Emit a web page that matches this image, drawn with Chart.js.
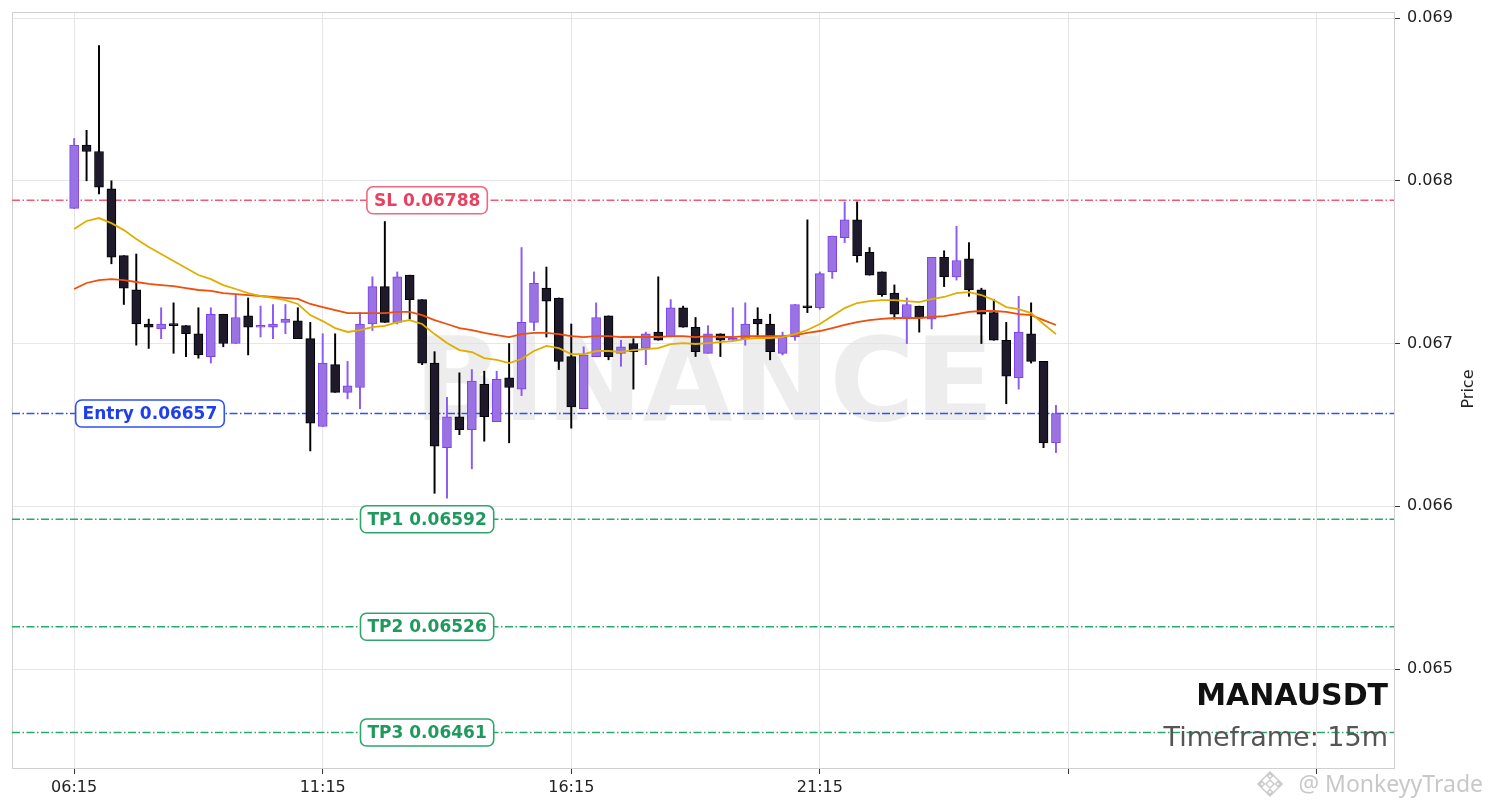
<!DOCTYPE html>
<html>
<head>
<meta charset="utf-8">
<script src="https://cdn.jsdelivr.net/npm/chart.js@4.4.1/dist/chart.umd.min.js"></script>
<style>
  html, body { margin: 0; padding: 0; background: #fff; }
  #wrap { width: 1490px; height: 808px; }
</style>
</head>
<body>
<div id="wrap"><canvas id="priceChart" width="1490" height="808"></canvas></div>
<script>
const opens = [0.06783,0.06822,0.06818,0.06795,0.06754,0.06733,0.06712,0.06709,0.06712,0.06711,
  0.06706,0.06692,0.06718,0.06700,0.06717,0.06710,0.06710,0.06713,0.06714,0.06703,
  0.06649,0.06687,0.06670,0.06673,0.06712,0.06735,0.06713,0.06742,0.06727,0.06688,
  0.06636,0.06655,0.06647,0.06675,0.06652,0.06679,0.06672,0.06713,0.06734,0.06728,
  0.06692,0.06660,0.06692,0.06717,0.06694,0.06700,0.06697,0.06707,0.06704,0.06722,
  0.06710,0.06694,0.06706,0.06702,0.06703,0.06715,0.06712,0.06694,0.06704,0.06723,
  0.06722,0.06744,0.06765,0.06776,0.06756,0.06744,0.06731,0.06716,0.06723,0.06715,
  0.06753,0.06741,0.06752,0.06733,0.06719,0.06702,0.06679,0.06706,0.06689,0.06639];
const highs = [0.06826,0.06831,0.06883,0.06800,0.06754,0.06755,0.06715,0.06722,0.06725,0.06711,
  0.06722,0.06722,0.06718,0.06730,0.06728,0.06723,0.06724,0.06724,0.06722,0.06713,
  0.06706,0.06706,0.06689,0.06719,0.06741,0.06775,0.06744,0.06742,0.06727,0.06695,
  0.06667,0.06682,0.06684,0.06683,0.06683,0.06700,0.06759,0.06744,0.06747,0.06728,
  0.06712,0.06698,0.06725,0.06717,0.06702,0.06703,0.06707,0.06741,0.06727,0.06723,
  0.06716,0.06711,0.06706,0.06722,0.06725,0.06722,0.06718,0.06707,0.06724,0.06776,
  0.06744,0.06766,0.06787,0.06787,0.06759,0.06744,0.06736,0.06728,0.06723,0.06753,
  0.06757,0.06772,0.06762,0.06734,0.06727,0.06713,0.06729,0.06725,0.06689,0.06662];
const lows = [0.06783,0.06800,0.06792,0.06749,0.06724,0.06699,0.06697,0.06703,0.06694,0.06692,
  0.06691,0.06688,0.06698,0.06700,0.06693,0.06704,0.06703,0.06706,0.06703,0.06634,
  0.06649,0.06670,0.06666,0.06660,0.06708,0.06713,0.06712,0.06715,0.06687,0.06608,
  0.06605,0.06644,0.06623,0.06640,0.06652,0.06639,0.06668,0.06708,0.06704,0.06684,
  0.06648,0.06660,0.06692,0.06690,0.06686,0.06672,0.06687,0.06702,0.06704,0.06710,
  0.06692,0.06694,0.06692,0.06702,0.06699,0.06705,0.06690,0.06693,0.06702,0.06719,
  0.06721,0.06740,0.06762,0.06750,0.06742,0.06729,0.06715,0.06700,0.06707,0.06709,
  0.06735,0.06739,0.06729,0.06700,0.06702,0.06663,0.06672,0.06688,0.06636,0.06633];
const closes = [0.06822,0.06818,0.06796,0.06753,0.06734,0.06712,0.06710,0.06712,0.06711,0.06706,
  0.06693,0.06718,0.06700,0.06716,0.06710,0.06711,0.06712,0.06715,0.06703,0.06651,
  0.06688,0.06670,0.06674,0.06712,0.06735,0.06713,0.06741,0.06727,0.06688,0.06637,
  0.06655,0.06647,0.06677,0.06655,0.06678,0.06673,0.06713,0.06737,0.06726,0.06689,
  0.06661,0.06693,0.06716,0.06692,0.06698,0.06695,0.06706,0.06702,0.06722,0.06710,
  0.06695,0.06706,0.06702,0.06703,0.06712,0.06712,0.06695,0.06704,0.06724,0.06722,
  0.06743,0.06766,0.06776,0.06754,0.06742,0.06730,0.06718,0.06724,0.06716,0.06753,
  0.06741,0.06751,0.06733,0.06718,0.06702,0.06680,0.06707,0.06689,0.06639,0.06657];
const maFast = [0.067704,0.067753,0.067771,0.067740,0.067697,0.067642,0.067593,0.067550,0.067507,0.067464,
  0.067421,0.067396,0.067359,0.067335,0.067310,0.067292,0.067280,0.067267,0.067243,0.067175,
  0.067138,0.067095,0.067071,0.067083,0.067101,0.067108,0.067132,0.067144,0.067120,0.067058,
  0.067003,0.066960,0.066948,0.066911,0.066899,0.066880,0.066905,0.066954,0.066985,0.066972,
  0.066935,0.066935,0.066954,0.066954,0.066948,0.066960,0.066966,0.066972,0.066997,0.067003,
  0.066997,0.067003,0.067009,0.067015,0.067028,0.067034,0.067034,0.067040,0.067058,0.067083,
  0.067120,0.067169,0.067218,0.067249,0.067261,0.067267,0.067267,0.067261,0.067255,0.067273,
  0.067286,0.067310,0.067316,0.067298,0.067267,0.067224,0.067212,0.067187,0.067120,0.067058];
const maSlow = [0.067335,0.067372,0.067390,0.067396,0.067390,0.067378,0.067366,0.067359,0.067353,0.067341,
  0.067329,0.067323,0.067310,0.067304,0.067298,0.067292,0.067286,0.067280,0.067274,0.067243,
  0.067224,0.067206,0.067187,0.067187,0.067187,0.067187,0.067194,0.067194,0.067175,0.067144,
  0.067120,0.067095,0.067083,0.067065,0.067052,0.067040,0.067058,0.067065,0.067065,0.067058,
  0.067046,0.067040,0.067046,0.067046,0.067040,0.067040,0.067040,0.067040,0.067046,0.067046,
  0.067040,0.067046,0.067040,0.067040,0.067046,0.067046,0.067046,0.067046,0.067052,0.067065,
  0.067077,0.067095,0.067114,0.067132,0.067144,0.067151,0.067157,0.067157,0.067157,0.067163,
  0.067169,0.067181,0.067194,0.067200,0.067200,0.067194,0.067181,0.067175,0.067144,0.067114];
const levelNames = ['SL', 'Entry', 'TP1', 'TP2', 'TP3'];
const levelPrices = [0.06788, 0.06657, 0.06592, 0.06526, 0.06461];
const xTicks = [0, 20, 40, 60, 80, 100];
const xTickLabels = ['06:15', '11:15', '16:15', '21:15', '', ''];
const yTicks = [0.065, 0.066, 0.067, 0.068, 0.069];

const X_MIN = -5, X_MAX = 106.2;
const Y_MIN = 0.064392, Y_MAX = 0.069037;

const BULL_FILL = '#9a72e2', BULL_EDGE = '#7b3ff0';
const BEAR_FILL = '#1e1a2c', BEAR_EDGE = '#000000';
const levelStyle = {
  SL:    { line: '#f35a72', text: '#e8405e', box: '#ef6a80', at: 28.4 },
  Entry: { line: '#2f50f6', text: '#1f3eee', box: '#3052f4', at: 6.1 },
  TP1:   { line: '#2aa86a', text: '#1f9a5e', box: '#2fa56c', at: 28.4 },
  TP2:   { line: '#2aa86a', text: '#1f9a5e', box: '#2fa56c', at: 28.4 },
  TP3:   { line: '#2aa86a', text: '#1f9a5e', box: '#2fa56c', at: 28.4 }
};

Chart.defaults.font.family = "'DejaVu Sans', sans-serif";

const isBull = opens.map((o, i) => closes[i] >= o);

const decorPlugin = {
  id: 'decor',
  beforeDatasetsDraw(chart) {
    const { ctx, chartArea: a } = chart;
    ctx.save();
    ctx.strokeStyle = '#d0d0d0';
    ctx.lineWidth = 1;
    ctx.strokeRect(a.left + 0.5, a.top + 0.5, a.right - a.left, a.bottom - a.top);
    ctx.fillStyle = 'rgba(225,225,225,0.6)';
    ctx.font = "bold 116px 'DejaVu Sans'";
    ctx.textAlign = 'center';
    ctx.textBaseline = 'alphabetic';
    ctx.fillText('BINANCE', (a.left + a.right) / 2 + 1, 420);
    ctx.restore();
  },
  afterDatasetsDraw(chart) {
    const { ctx, chartArea: a } = chart;
    const xs = chart.scales.x, ys = chart.scales.y;
    ctx.save();
    ctx.font = "bold 17px 'DejaVu Sans'";
    ctx.textAlign = 'center';
    ctx.textBaseline = 'middle';
    levelNames.forEach((name, i) => {
      const st = levelStyle[name];
      const label = name + ' ' + levelPrices[i].toFixed(5);
      const cx = xs.getPixelForValue(st.at);
      const cy = ys.getPixelForValue(levelPrices[i]);
      const w = ctx.measureText(label).width + 14;
      const h = 27;
      ctx.beginPath();
      ctx.roundRect(cx - w / 2, cy - h / 2, w, h, 6);
      ctx.fillStyle = '#ffffff';
      ctx.fill();
      ctx.lineWidth = 1.6;
      ctx.strokeStyle = st.box;
      ctx.stroke();
      ctx.fillStyle = st.text;
      ctx.fillText(label, cx, cy + 1);
    });

    ctx.textAlign = 'right';
    ctx.textBaseline = 'alphabetic';
    ctx.fillStyle = '#111111';
    ctx.font = "bold 30px 'DejaVu Sans'";
    ctx.fillText('MANAUSDT', a.right - 6, 705);
    ctx.fillStyle = '#555555';
    ctx.font = "27px 'DejaVu Sans'";
    ctx.fillText('Timeframe: 15m', a.right - 6, 746);

    ctx.save();
    ctx.translate(1469, 389);
    ctx.rotate(-Math.PI / 2);
    ctx.textAlign = 'center';
    ctx.textBaseline = 'middle';
    ctx.fillStyle = '#222222';
    ctx.font = "16px 'DejaVu Sans'";
    ctx.fillText('Price', 0, 0);
    ctx.restore();

    ctx.fillStyle = 'rgba(190,190,190,0.85)';
    ctx.font = "23px 'Noto Sans'";
    ctx.textAlign = 'right';
    ctx.fillText('@ MonkeyyTrade', 1483, 792);
    ctx.strokeStyle = 'rgba(195,195,195,0.85)';
    ctx.lineWidth = 1.5;
    const lx = 1270, ly = 784;
    const diamond = (x, y, r) => {
      ctx.beginPath();
      ctx.moveTo(x, y - r); ctx.lineTo(x + r, y); ctx.lineTo(x, y + r); ctx.lineTo(x - r, y);
      ctx.closePath();
      ctx.stroke();
    };
    diamond(lx, ly, 12);
    diamond(lx, ly, 4);
    diamond(lx, ly - 8, 2.5);
    diamond(lx, ly + 8, 2.5);
    diamond(lx - 8, ly, 2.5);
    diamond(lx + 8, ly, 2.5);
    ctx.restore();
  }
};

const levelDatasets = levelNames.map((name, i) => ({
  type: 'line',
  data: [{ x: X_MIN, y: levelPrices[i] }, { x: X_MAX, y: levelPrices[i] }],
  borderColor: levelStyle[name].line,
  borderWidth: 1.5,
  borderDash: [8, 2.5, 1.5, 2.5],
  pointRadius: 0,
  order: 3
}));

const ctx = document.getElementById('priceChart');
window.priceChart = new Chart(ctx, {
  type: 'bar',
  data: {
    datasets: [
      {
        type: 'line',
        data: maFast.map((v, i) => ({ x: i, y: v })),
        borderColor: '#e0ad00',
        borderWidth: 1.8,
        pointRadius: 0,
        tension: 0,
        order: 0
      },
      {
        type: 'line',
        data: maSlow.map((v, i) => ({ x: i, y: v })),
        borderColor: '#f04e0c',
        borderWidth: 1.8,
        pointRadius: 0,
        tension: 0,
        order: 0
      },
      {
        data: opens.map((o, i) => ({ x: i, y: [o, closes[i]] })),
        backgroundColor: isBull.map(b => b ? BULL_FILL : BEAR_FILL),
        borderColor: isBull.map(b => b ? BULL_EDGE : BEAR_EDGE),
        borderWidth: 1,
        borderSkipped: false,
        barThickness: 9,
        minBarLength: 2,
        grouped: false,
        order: 1
      },
      {
        data: lows.map((l, i) => ({ x: i, y: [l, highs[i]] })),
        backgroundColor: isBull.map(b => b ? '#8a5cf4' : '#000000'),
        borderWidth: 0,
        barThickness: 1.3,
        grouped: false,
        order: 2
      },
      ...levelDatasets
    ]
  },
  options: {
    responsive: false,
    animation: false,
    events: [],
    layout: { padding: { left: 12, top: 12, right: 0, bottom: 0 } },
    plugins: { legend: false, tooltip: { enabled: false } },
    scales: {
      x: {
        type: 'linear',
        min: X_MIN,
        max: X_MAX,
        offset: false,
        afterBuildTicks: (s) => { s.ticks = xTicks.map(v => ({ value: v })); },
        afterFit: (s) => { s.height = 40; },
        ticks: {
          autoSkip: false,
          maxRotation: 0,
          padding: 4,
          color: '#222222',
          font: { size: 16 },
          callback: (v, i) => xTickLabels[i]
        },
        grid: { color: '#e6e6e6', tickColor: '#333333', tickLength: 6, offset: false },
        border: { color: '#d0d0d0' }
      },
      y: {
        position: 'right',
        min: Y_MIN,
        max: Y_MAX,
        beginAtZero: false,
        afterBuildTicks: (s) => { s.ticks = yTicks.map(v => ({ value: v })); },
        afterFit: (s) => { s.width = 96; s.paddingTop = 0; s.paddingBottom = 0; },
        ticks: {
          padding: 7,
          color: '#222222',
          font: { size: 16 },
          callback: (v) => v.toFixed(3)
        },
        grid: { color: '#e6e6e6', tickColor: '#333333', tickLength: 6 },
        border: { color: '#d0d0d0' }
      }
    }
  },
  plugins: [decorPlugin]
});
</script>
</body>
</html>
